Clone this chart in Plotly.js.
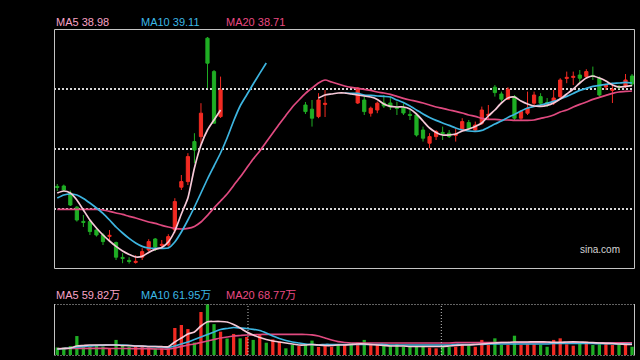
<!DOCTYPE html>
<html>
<head>
<meta charset="utf-8">
<script src="https://cdn.plot.ly/plotly-3.0.1.min.js"></script>
<style>html,body{margin:0;padding:0;background:#000;}#chart{width:640px;height:360px;}</style>
</head>
<body>
<div id="chart"></div>
<script>
const opens = [33.94,33.96,33.60,32.90,32.19,32.18,31.76,31.51,31.44,31.13,
30.39,30.24,30.14,30.40,30.76,31.31,30.99,31.01,31.76,33.90,
34.18,36.18,36.43,41.35,39.68,37.43,null,null,null,null,
null,null,null,null,null,null,null,null,38.01,37.80,
37.43,38.04,null,null,null,null,38.11,38.26,37.60,37.76,
38.11,38.11,37.89,37.86,37.54,37.51,36.76,36.10,36.43,36.64,
36.60,36.49,36.76,37.13,36.76,37.10,37.49,38.90,38.56,38.30,
38.43,37.35,37.60,38.10,38.43,38.14,38.11,38.43,39.34,39.39,
39.51,39.43,39.49,39.35,38.91,38.74,38.94,38.93,39.46];
const closes = [33.89,33.76,33.01,32.26,32.14,31.68,31.51,31.18,31.49,30.40,
30.34,30.19,30.19,30.68,31.18,30.91,31.04,31.43,33.18,34.18,
35.43,35.76,37.60,40.10,37.10,38.76,null,null,null,null,
null,null,null,null,null,null,null,null,37.68,37.35,
38.26,38.09,null,null,null,null,38.86,37.68,37.85,38.10,
37.96,37.91,37.84,37.61,37.49,36.51,36.35,36.43,36.68,36.59,
36.43,36.54,37.18,36.85,37.01,37.76,37.54,38.63,38.30,38.80,
37.35,37.68,37.85,38.51,38.10,38.09,38.36,39.26,39.39,39.44,
39.35,39.68,39.44,38.51,39.01,38.79,38.89,39.26,39.06];
const highs = [34.06,34.03,33.73,32.96,32.51,32.26,31.90,31.60,31.76,31.18,
30.60,30.40,30.50,30.85,31.30,31.36,31.26,31.55,33.35,34.51,
35.60,36.60,38.10,41.41,39.76,39.43,null,null,null,null,
null,null,null,null,null,null,null,null,38.16,38.26,
38.60,38.76,null,null,null,null,38.91,38.51,37.93,38.18,
38.51,38.43,38.18,38.10,37.76,37.60,36.93,36.60,36.76,36.93,
36.76,36.85,37.35,37.26,37.18,37.93,38.01,39.01,38.68,38.90,
38.51,37.76,38.68,38.68,38.60,38.36,38.76,39.35,39.68,39.68,
39.76,39.80,39.93,39.43,39.06,39.11,39.01,39.56,39.56];
const lows = [33.71,33.68,32.96,32.18,31.91,31.51,31.43,31.01,31.26,30.26,
30.10,30.08,30.08,30.26,30.68,30.71,30.86,30.93,31.60,33.76,
34.01,35.10,36.01,38.85,37.09,37.36,null,null,null,null,
null,null,null,null,null,null,null,null,37.56,36.93,
37.35,37.41,null,null,null,null,38.06,37.51,37.43,37.60,
37.86,37.76,37.51,37.51,37.26,36.43,36.18,35.85,36.26,36.26,
36.36,36.18,36.68,36.76,36.68,37.01,37.26,38.43,38.18,38.26,
37.26,37.26,37.51,38.01,37.93,37.91,38.01,38.35,39.10,39.01,
39.10,39.35,39.26,38.43,38.76,38.11,38.81,38.86,38.96];
const ma5 = [33.61,33.71,33.61,33.26,32.76,32.26,31.86,31.51,31.21,30.94,
30.71,30.54,30.41,30.44,30.64,30.79,30.89,31.16,31.71,32.56,
33.36,34.86,36.01,36.76,37.26,37.76,null,null,null,null,
null,null,null,null,null,null,null,null,null,null,
38.36,38.51,38.56,38.61,38.61,38.56,38.51,38.46,38.41,38.29,
38.06,37.94,37.91,37.91,37.81,37.56,37.21,36.86,36.64,36.51,
36.51,36.56,36.71,36.81,36.94,37.11,37.46,37.76,38.11,38.36,
38.41,38.21,38.06,37.96,37.94,37.99,38.11,38.31,38.56,38.81,
39.11,39.36,39.46,39.36,39.21,39.01,38.91,38.94,38.98];
const ma10 = [33.36,33.51,33.56,33.51,33.34,33.11,32.86,32.59,32.26,31.91,
31.61,31.34,31.11,30.94,30.86,30.84,30.84,30.86,31.16,31.66,
32.26,32.91,33.61,34.31,34.96,35.61,36.36,37.21,37.96,38.51,
39.06,39.59,40.11,null,null,null,null,null,null,null,
null,null,null,null,38.61,38.59,38.59,38.51,38.49,38.46,
38.44,38.41,38.26,38.14,37.96,37.76,37.56,37.39,37.24,37.11,
36.99,36.86,36.76,36.71,36.69,36.74,36.89,37.06,37.21,37.39,
37.54,37.71,37.86,37.94,38.01,38.09,38.19,38.31,38.44,38.59,
38.74,38.84,38.94,38.99,39.04,39.09,39.11,39.14,39.11];
const ma20 = [32.79,32.79,32.79,32.79,32.79,32.79,32.79,32.76,32.69,32.61,
32.54,32.44,32.36,32.26,32.16,32.09,31.99,31.91,31.84,31.81,
31.84,31.94,32.16,32.49,32.86,33.21,33.56,33.99,34.41,34.86,
35.31,35.71,36.16,36.61,37.06,37.49,37.91,38.26,38.59,38.86,
39.11,39.26,39.16,39.06,38.96,38.89,38.84,38.79,38.74,38.66,
38.61,38.54,38.44,38.34,38.26,38.19,38.11,38.01,37.91,37.84,
37.76,37.69,37.61,37.51,37.44,37.34,37.29,37.29,37.26,37.26,
37.24,37.24,37.24,37.26,37.34,37.41,37.51,37.66,37.76,37.91,
38.04,38.16,38.29,38.39,38.49,38.59,38.66,38.69,38.71];
// volume in 万
const volumes = [43,43,51,108,54,48,54,48,40,86,
54,48,48,54,43,38,38,38,154,171,
148,71,245,289,176,133,94,120,95,103,
86,114,70,89,76,38,57,51,63,82,
46,51,47,57,57,67,70,86,57,61,
57,57,61,47,47,47,47,42,38,47,
47,47,61,53,47,86,57,95,57,57,
110,57,61,61,57,47,86,95,61,53,
67,76,57,61,61,57,57,57,47];
// 1 = up day (red), 0 = down day (green)
const volUp = [0,0,0,0,0,0,0,0,1,0,
0,0,1,1,1,0,1,1,1,1,
1,0,1,0,0,1,0,1,0,1,
0,1,0,1,1,0,0,1,0,0,
1,1,1,0,1,0,1,0,1,1,
0,0,0,0,0,0,0,1,1,0,
0,1,1,0,1,1,1,0,0,1,
0,1,1,1,0,0,1,1,1,1,
0,1,0,0,1,1,0,1,0];
const volMa5 = [34.2,37.1,39.9,51.3,54.2,57,57,57,57,57,
54.2,54.2,51.3,51.3,48.5,48.5,47.3,47.3,74.1,96.9,
119.7,131.1,165.3,189.8,191,191,188.1,173.9,153.9,131.1,
114,99.8,88.4,79.8,74.1,68.4,62.7,57,57,59.9,
57,54.2,54.2,57,57,59.9,62.7,62.7,59.9,57,
54.2,51.3,51.3,51.3,48.5,48.5,48.5,48.5,48.5,48.5,
51.3,54.2,57,57,59.9,62.7,65.6,68.4,71.3,71.3,
74.1,74.1,74.1,75.2,75.2,74.1,72.4,72.4,74.1,75.2,
74.1,72.4,70.1,68.4,66.7,65.6,62.7,61,59.82];
const volMa10 = [34.2,37.1,39.9,45.6,48.5,51.3,54.2,55.3,57,57,
57,54.2,51.3,49.6,48.5,47.3,45.6,43.9,51.3,62.7,
74.1,88.4,102.6,116.9,131.1,145.4,151.1,156.8,153.9,151.1,
146.5,139.7,125.4,108.3,94.1,82.7,74.1,68.4,62.7,59.9,
57,59.9,59.9,59.9,59.9,59.9,59.9,59.9,59.9,59.9,
59.9,57,57,57,57,57,57,57,57,57,
57,59.9,59.9,59.9,59.9,59.9,62.7,62.7,62.7,62.7,
62.7,62.7,62.7,62.7,62.7,62.7,65.6,65.6,65.6,65.6,
65.6,65.6,65.6,64.4,64.4,64.4,62.7,62.7,61.95];
const volMa20 = [37.1,37.1,37.1,37.1,38.2,38.2,38.2,38.2,37.1,37.1,
37.1,37.1,35.9,35.9,35.9,34.2,34.2,34.2,39.9,48.5,
57,62.7,71.3,79.8,88.4,96.9,102.6,108.3,111.2,114,
115.1,116.9,118,118,118,118,118,118,116.9,115.1,
108.3,96.9,85.5,75.8,71.3,68.4,68.4,68.4,68.4,68.4,
68.4,68.4,68.4,68.4,68.4,68.4,68.4,68.4,68.4,68.4,
68.4,70.1,70.1,70.1,70.1,70.1,70.1,70.1,70.1,70.1,
70.1,70.1,70.1,70.1,70.1,70.1,69.5,69.5,69.5,69.5,
69.5,69.5,69.5,69.5,69.5,69.5,69.5,69.5,68.77];
const monthBreaks = [29.2, 58.8];

const days = opens.map((_, i) => i);
const RED = '#f22a22', GREEN = '#1fae24';
const C5 = '#f6c9d8', C10 = '#3db5e0', C20 = '#e04a80';
const T5 = '#f9a3c6', T10 = '#3cb8e6', T20 = '#ec4a82';

const last = a => a[a.length - 1];
const lineTrace = (y, color, xa, ya) => ({
  type: 'scatter', mode: 'lines', x: days, y: y, xaxis: xa, yaxis: ya,
  line: {color: color, width: 1.7, shape: 'spline', smoothing: 0.6},
  connectgaps: false, hoverinfo: 'skip'
});

const data = [
  {type: 'candlestick', x: days, open: opens, high: highs, low: lows, close: closes,
   xaxis: 'x', yaxis: 'y', whiskerwidth: 0, hoverinfo: 'skip',
   increasing: {line: {color: RED, width: 1}, fillcolor: RED},
   decreasing: {line: {color: GREEN, width: 1}, fillcolor: GREEN}},
  lineTrace(ma20, C20, 'x', 'y'),
  lineTrace(ma10, C10, 'x', 'y'),
  lineTrace(ma5, C5, 'x', 'y'),
  {type: 'bar', x: days, y: volumes, xaxis: 'x2', yaxis: 'y2',
   marker: {color: volUp.map(u => u ? RED : GREEN), line: {width: 0}}, hoverinfo: 'skip'},
  lineTrace(volMa20, C20, 'x2', 'y2'),
  lineTrace(volMa10, C10, 'x2', 'y2'),
  lineTrace(volMa5, C5, 'x2', 'y2')
];

const W = 640, H = 360;
const px = v => v / W, py = v => 1 - v / H;
const xDom = [px(54), px(634)];
const font = (c, s) => ({family: 'Liberation Sans, Arial, Noto Sans CJK SC, sans-serif', size: s || 11, color: c});
const ann = (text, x, y, c) => ({text: text, xref: 'paper', yref: 'paper', x: px(x), y: py(y),
  xanchor: 'left', yanchor: 'middle', showarrow: false, font: font(c)});

const shapes = [
  {type: 'rect', xref: 'paper', yref: 'paper', x0: px(54.5), x1: px(634.5), y0: py(268.5), y1: py(29.5),
   line: {color: '#c4c4c4', width: 1}},
  {type: 'line', xref: 'paper', yref: 'paper', x0: px(54.5), x1: px(54.5), y0: py(355), y1: py(304),
   line: {color: '#c4c4c4', width: 1}},
  {type: 'line', xref: 'paper', yref: 'paper', x0: px(634.5), x1: px(634.5), y0: py(355), y1: py(304),
   line: {color: '#c4c4c4', width: 1}},
  {type: 'line', xref: 'paper', yref: 'paper', x0: px(54.5), x1: px(634.5), y0: py(304.5), y1: py(304.5),
   line: {color: '#c4c4c4', width: 1, dash: '1px,2px'}},
  {type: 'line', xref: 'paper', yref: 'paper', x0: px(54.5), x1: px(634.5), y0: py(355.5), y1: py(355.5),
   line: {color: '#c4c4c4', width: 1, dash: '1px,2px'}}
].concat(monthBreaks.map(b => ({type: 'line', xref: 'x2', yref: 'paper', x0: b, x1: b,
   y0: py(355), y1: py(304), line: {color: '#c4c4c4', width: 1, dash: '1px,2px'}})));

const layout = {
  width: W, height: H, margin: {l: 0, r: 0, t: 0, b: 0},
  paper_bgcolor: '#000', plot_bgcolor: '#000', showlegend: false,
  xaxis: {domain: xDom, range: [-0.5, 88.3], anchor: 'y', showgrid: false, zeroline: false,
          showticklabels: false, ticks: '', rangeslider: {visible: false}},
  yaxis: {domain: [py(269), py(29)], range: [29.81, 41.81], anchor: 'x',
          tickvals: [32.81, 35.81, 38.81], showticklabels: false, ticks: '',
          gridcolor: '#d6d6d6', gridwidth: 2, griddash: '2px,2px', zeroline: false},
  xaxis2: {domain: xDom, range: [-0.5, 88.3], anchor: 'y2', showgrid: false, zeroline: false,
           showticklabels: false, ticks: ''},
  yaxis2: {domain: [py(355), py(304)], range: [0, 290.7], anchor: 'x2', showgrid: false,
           zeroline: false, showticklabels: false, ticks: ''},
  bargap: 0.5,
  shapes: shapes,
  annotations: [
    ann('MA5 ' + last(ma5).toFixed(2), 54, 22, T5),
    ann('MA10 ' + last(ma10).toFixed(2), 139, 22, T10),
    ann('MA20 ' + last(ma20).toFixed(2), 224, 22, T20),
    ann('MA5 ' + last(volMa5).toFixed(2) + '万', 54, 295, T5),
    ann('MA10 ' + last(volMa10).toFixed(2) + '万', 139, 295, T10),
    ann('MA20 ' + last(volMa20).toFixed(2) + '万', 224, 295, T20),
    {text: 'sina.com', xref: 'paper', yref: 'paper', x: px(622), y: py(249), xanchor: 'right',
     yanchor: 'middle', showarrow: false, font: font('#d4d4d4', 10)}
  ]
};

Plotly.newPlot('chart', data, layout, {staticPlot: true, displayModeBar: false});
</script>
</body>
</html>
